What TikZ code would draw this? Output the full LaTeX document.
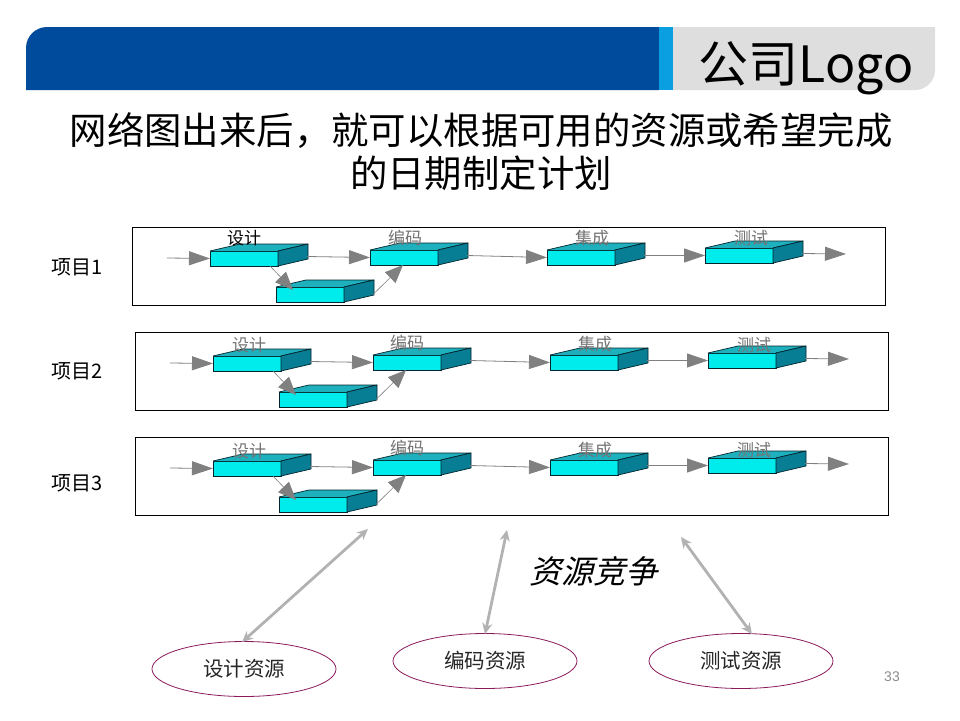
\documentclass[tikz,border=0pt]{standalone}
\usepackage{fontspec}
\setmainfont{Noto Sans CJK SC}
\newfontfamily\cjkslant[FakeSlant=0.25]{Noto Sans CJK SC}
\newfontfamily\latinsans{Liberation Sans}
\usetikzlibrary{arrows.meta,shapes.geometric}
\definecolor{bandblue}{HTML}{004B9B}
\definecolor{bandlight}{HTML}{0A9FE0}
\definecolor{bandgray}{HTML}{DEDEDE}
\definecolor{boxfront}{HTML}{00EBEB}
\definecolor{boxtop}{HTML}{1FB0BE}
\definecolor{boxside}{HTML}{087E95}
\definecolor{flowgray}{HTML}{808080}
\definecolor{ovalline}{HTML}{8B1A5C}
\tikzset{
  x=1pt,y=-1pt,
  frame/.style={draw=black,line width=0.9pt,fill=white},
  boxfrontst/.style={draw=black!70!boxside,line width=0.7pt,fill=boxfront,minimum width=68pt,minimum height=15pt,inner sep=0pt,outer sep=0pt},
  boxpart/.style={draw=black!70!boxside,line width=0.7pt,line join=round},
  flow/.style={draw=flowgray,line width=0.8pt,-{Triangle[length=21pt,width=14pt,fill=flowgray]}},
  slant/.style={draw=flowgray,line width=0.6pt,-{Triangle[length=18pt,width=15pt,fill=flowgray]}},
  steplabel/.style={font=\fontsize{17}{17}\selectfont,text=black!55,inner sep=0pt},
  rowlabel/.style={font=\fontsize{20}{20}\selectfont,inner sep=0pt},
  res/.style={ellipse,draw=ovalline,line width=0.8pt,minimum width=184pt,minimum height=55pt,inner sep=0pt,font=\fontsize{20.5}{20.5}\selectfont,text=black!85},
  conflict/.style={draw=black!30,line width=2.8pt,{Stealth[length=11pt,width=10pt]}-{Stealth[length=11pt,width=10pt]}},
}
% name, left x, top y of the front face
\newcommand{\slab}[3]{%
  \node[boxfrontst,anchor=north west] (#1) at (#2,#3) {};
  \fill[boxtop] (#1.north west) -- ++(30,-7) -- ++(68,0) -- (#1.north east) -- cycle;
  \draw[boxpart] (#1.north west) -- ++(30,-7) -- ++(68,0) -- (#1.north east);
  \filldraw[boxpart,fill=boxside] (#1.north east) -- ++(30,-7) -- ++(0,15) -- (#1.south east) -- cycle;
  \coordinate (#1-r) at ([shift={(29,-2)}]#1.east);
}
\begin{document}
\begin{tikzpicture}
\useasboundingbox (0,0) rectangle (960,720);
% header
\fill[bandblue] (26,90) [rounded corners=21pt] -- (26,27) [sharp corners] -- (659,27) -- (659,90) -- cycle;
\fill[bandlight] (659,27) rectangle (673,90);
\fill[bandgray] (673,27) -- (935,27) [rounded corners=20pt] -- (935,90) [sharp corners] -- (673,90) -- cycle;
\node[font=\fontsize{50}{50}\selectfont,inner sep=0pt] (logo) at (806,68) {公司Logo};
% title
\node[font=\fontsize{37.4}{37.4}\selectfont,inner sep=0pt] (t1) at (481,131) {网络图出来后，就可以根据可用的资源或希望完成};
\node[font=\fontsize{37.4}{37.4}\selectfont,inner sep=0pt] (t2) at (481,173) {的日期制定计划};
% rows
\foreach \p/\dx/\dy/\lab/\ly/\sa/\sb/\sc/\sd/\cola in {
  1/0/0/项目1/267/238/238/238/238/black,
  2/3/105/项目2/371/345/343/344/345/black!55,
  3/3/210/项目3/483/451/448/450/450/black!55}{
  \node[frame,anchor=north west,minimum width=752.5pt,minimum height=78pt,inner sep=0pt] (f\p) at (132+\dx,227+\dy) {};
  \node[rowlabel] (l\p) at (77.5,\ly) {\lab};
  \slab{a\p}{210+\dx}{251+\dy}
  \slab{b\p}{370+\dx}{250+\dy}
  \slab{c\p}{547+\dx}{250+\dy}
  \slab{d\p}{705+\dx}{248+\dy}
  \slab{e\p}{276+\dx}{287+\dy}
  \coordinate (s\p) at (167+\dx,258+\dy);
  \coordinate (z\p) at (846+\dx,254+\dy);
  \draw[flow] (s\p) -- (a\p.west);
  \draw[flow] (a\p-r) -- (b\p.west);
  \draw[flow] (b\p-r) -- (c\p.west);
  \draw[flow] (c\p-r) -- (d\p.west);
  \draw[flow] (d\p-r) -- (z\p);
  \draw[slant] ([xshift=-8pt]a\p.south east) -- ([xshift=17pt,yshift=-3pt]e\p.north west);
  \draw[slant] ([yshift=-2pt]e\p-r) -- ([xshift=-1pt,yshift=0pt]b\p.south);
  \node[steplabel,text=\cola] (ta\p) at (244+\dx*5/3,\sa) {设计};
  \node[steplabel] (tb\p) at (405+\dx*2/3,\sb) {编码};
  \node[steplabel] (tc\p) at (592+\dx,\sc) {集成};
  \node[steplabel] (td\p) at (751+\dx,\sd) {测试};
}
% contention
\node[font=\cjkslant\fontsize{32}{32}\selectfont,inner sep=0pt] (cmp) at (593,571) {资源竞争};
\node[res] (r1) at (244,669) {设计资源};
\node[res] (r2) at (485,661) {编码资源};
\node[res] (r3) at (741,661) {测试资源};
\coordinate (c1) at (368,529);
\coordinate (c2) at (507,530);
\coordinate (c3) at (681,537);
\draw[conflict] ([xshift=-2pt,yshift=-1pt]r1.north) -- (c1);
\draw[conflict] ([yshift=-1pt]r2.north) -- (c2);
\draw[conflict] ([xshift=11pt,yshift=-1pt]r3.north) -- (c3);
\node[font=\latinsans\fontsize{14}{14}\selectfont,text=black!45,inner sep=0pt] (pg) at (892,677) {33};
\end{tikzpicture}
\end{document}
